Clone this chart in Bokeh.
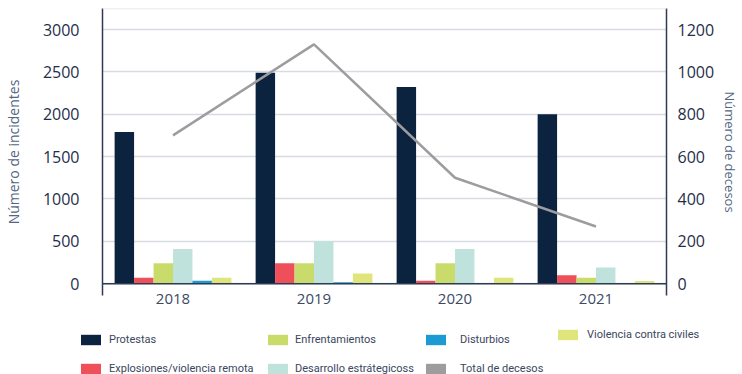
from bokeh.plotting import figure
from bokeh.layouts import column, row
from bokeh.models import (FactorRange, Range1d, LinearAxis, FixedTicker, Span,
                          Legend, LegendItem, ColumnDataSource)
from bokeh.transform import dodge
from bokeh.embed import file_html
from bokeh.resources import INLINE

years = ["2018", "2019", "2020", "2021"]
protestas = [1790, 2490, 2320, 2000]
explosiones = [70, 240, 35, 100]
enfrentamientos = [240, 240, 240, 70]
desarrollo = [410, 500, 410, 190]
disturbios = [35, 15, 0, 0]
violencia = [70, 120, 70, 30]
decesos = [700, 1130, 500, 270]

left_ticks = [0, 500, 1000, 1500, 2000, 2500, 3000]
right_ticks = [0, 200, 400, 600, 800, 1000, 1200]

series = [
    ("Protestas", "protestas", "#0c2340"),
    ("Explosiones/violencia remota", "explosiones", "#ef4f59"),
    ("Enfrentamientos", "enfrentamientos", "#c9dc6b"),
    ("Desarrollo estrátegicoss", "desarrollo", "#bfe2dd"),
    ("Disturbios", "disturbios", "#1b9bd1"),
    ("Violencia contra civiles", "violencia", "#dfe57a"),
]
line_label = "Total de decesos"
line_color = "#9d9d9f"
navy = "#2e3b55"
tick_color = "#1f2e4a"
title_color = "#55657f"
legend_text = "#3a4660"
FONT = "Open Sans"
LFONT = "Roboto"

src = ColumnDataSource(dict(year=years, protestas=protestas, explosiones=explosiones,
                            enfrentamientos=enfrentamientos, desarrollo=desarrollo,
                            disturbios=disturbios, violencia=violencia, decesos=decesos))

p = figure(width=742, height=320, x_range=FactorRange(*years, range_padding=0),
           y_range=Range1d(-140, 3248), output_backend="svg", toolbar_location=None,
           min_border_left=100, min_border_right=74, min_border_top=8, min_border_bottom=25)
p.extra_y_ranges = {"dec": Range1d(-56, 1299.2)}
p.outline_line_color = None

bw = 0.138
for i, (name, col, color) in enumerate(series):
    p.vbar(x=dodge("year", (i - 2.5) * bw, range=p.x_range), top=col, bottom=0,
           width=bw, source=src, fill_color=color, line_color=None)

p.line(x="year", y="decesos", source=src, y_range_name="dec",
       line_color=line_color, line_width=2.5)

# axes
p.yaxis.ticker = FixedTicker(ticks=left_ticks)
p.ygrid.ticker = FixedTicker(ticks=left_ticks)
p.xgrid.grid_line_color = None
p.ygrid.grid_line_color = "#d8dbe1"
p.ygrid.grid_line_width = 1.5

def style_y(ax, label, lab_standoff, title_standoff, title_size):
    ax.axis_label = label
    ax.axis_label_text_font = FONT
    ax.axis_label_text_font_style = "normal"
    ax.axis_label_text_font_size = title_size
    ax.axis_label_text_color = title_color
    ax.axis_label_standoff = title_standoff
    ax.major_label_text_font = FONT
    ax.major_label_text_font_size = "16px"
    ax.major_label_text_color = tick_color
    ax.major_label_standoff = lab_standoff
    ax.major_tick_line_color = None
    ax.minor_tick_line_color = None
    ax.major_tick_out = 0
    ax.major_tick_in = 0
    ax.minor_tick_out = 0
    ax.minor_tick_in = 0
    ax.axis_line_color = navy
    ax.axis_line_width = 1.5

style_y(p.yaxis[0], "Número de incidentes", 23, 17, "14px")
rax = LinearAxis(y_range_name="dec", ticker=FixedTicker(ticks=right_ticks))
style_y(rax, "Número de decesos", 11, 4, "13px")
p.add_layout(rax, "right")

xa = p.xaxis[0]
xa.axis_line_color = None
xa.major_tick_line_color = None
xa.minor_tick_line_color = None
xa.major_tick_out = 0
xa.major_tick_in = 0
xa.major_label_text_font = FONT
xa.major_label_text_font_size = "15px"
xa.major_label_text_color = "#3c4a63"
xa.major_label_standoff = -2

p.add_layout(Span(location=0, dimension="width", line_color=navy, line_width=1.5))
p.add_layout(Span(location=3248, dimension="width", line_color="#e2e2e2", line_width=1.5))

# legend strip
lf = figure(width=742, height=54, x_range=Range1d(0, 1), y_range=Range1d(0, 1),
            output_backend="svg", toolbar_location=None,
            min_border_left=0, min_border_right=0, min_border_top=0, min_border_bottom=0,
            x_axis_location=None, y_axis_location=None)
lf.grid.visible = False
lf.outline_line_color = None

swatches = {}
for name, col, color in series:
    swatches[name] = lf.rect(x=[0.5], y=[0.5], width=0.1, height=0.1, fill_color=color,
                             line_color=None, visible=False)
swatches[line_label] = lf.rect(x=[0.5], y=[0.5], width=0.1, height=0.1, fill_color=line_color,
                               line_color=None, visible=False)

def make_legend(names, x, y, standoff):
    lg = Legend(items=[LegendItem(label=n, renderers=[swatches[n]]) for n in names],
                location=(x, y), orientation="vertical",
                glyph_width=25, glyph_height=13, label_height=13, spacing=16,
                padding=0, margin=0, label_standoff=standoff,
                border_line_color=None, background_fill_alpha=0,
                inactive_fill_alpha=0,
                label_text_font=LFONT, label_text_font_size="11px",
                label_text_color=legend_text)
    lf.add_layout(lg)

make_legend(["Protestas", "Explosiones/violencia remota"], 78, -1, 6)
make_legend(["Enfrentamientos", "Desarrollo estrátegicoss"], 265, -1, 5)
make_legend(["Disturbios", line_label], 423, -1, 12)
make_legend(["Violencia contra civiles"], 555, 33, 7)

layout = column(p, row(lf), spacing=0)
open("out.html", "w").write(file_html(layout, INLINE))
